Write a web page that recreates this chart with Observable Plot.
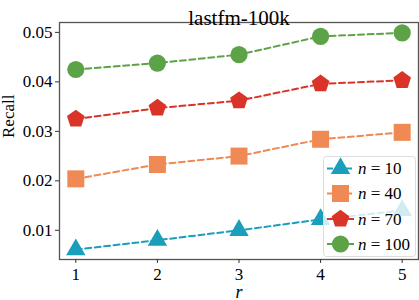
<!DOCTYPE html>
<html><head><meta charset="utf-8">
<script src="https://cdn.jsdelivr.net/npm/d3@7"></script>
<script src="https://cdn.jsdelivr.net/npm/@observablehq/plot@0.6"></script>
<style>
body{margin:0;background:#fff;}
#wrap{position:relative;width:419px;height:300px;font-family:"Liberation Serif","DejaVu Serif",serif;}
#legend{position:absolute;left:0;top:0;}
</style></head>
<body><div id="wrap"></div>
<script>
const title = "lastfm-100k";
const rValues = [1, 2, 3, 4, 5];
const seriesNames = ["10", "40", "70", "100"];
const n10 = [0.0061, 0.0080, 0.0100, 0.0122, 0.0140];
const n40 = [0.0204, 0.0233, 0.0250, 0.0284, 0.0298];
const n70 = [0.0325, 0.0347, 0.0362, 0.0396, 0.0403];
const n100 = [0.0425, 0.0438, 0.0455, 0.0492, 0.0499];
const yTicks = [0.01, 0.02, 0.03, 0.04, 0.05];
const colors = ["#1a9fbb", "#ef8a55", "#da3429", "#5ca347"];

const pentagon = {
  draw(ctx, size) {
    const R = Math.sqrt(size / Math.PI) * 1.12;
    for (let i = 0; i < 5; i++) {
      const a = -Math.PI / 2 + i * 2 * Math.PI / 5;
      const x = R * Math.cos(a), y = R * Math.sin(a);
      if (i === 0) ctx.moveTo(x, y); else ctx.lineTo(x, y);
    }
    ctx.closePath();
  }
};
const symbols = ["triangle", "square", pentagon, "circle"];
const radii = [7.2, 9.6, 8.3, 8.6];

const allValues = [n10, n40, n70, n100];
const series = allValues.map((vals, i) => rValues.map((r, j) => ({r, v: vals[j], n: seriesNames[i]})));

const marks = [Plot.frame({stroke: "#555", strokeWidth: 1.3})];
series.forEach((d, i) => {
  marks.push(Plot.line(d, {x: "r", y: "v", stroke: colors[i], strokeWidth: 2, strokeDasharray: "6,3.5"}));
  marks.push(Plot.dot(d, {x: "r", y: "v", fill: colors[i], symbol: symbols[i], r: radii[i]}));
});
marks.push(
  Plot.axisX({ticks: rValues, tickFormat: d3.format("d"), tickSize: 4, tickPadding: 4, fontSize: 17, label: null, stroke: "#333"}),
  Plot.axisY({ticks: yTicks, tickFormat: d3.format(".2f"), tickSize: 4, tickPadding: 3, fontSize: 17, label: null, stroke: "#333"}),
  Plot.text([title], {frameAnchor: "top", dy: -12, fontSize: 21, fill: "#000"}),
  Plot.text(["r"], {frameAnchor: "bottom", dy: 38, fontSize: 18, fontStyle: "italic", fill: "#000"}),
  Plot.text(["Recall"], {frameAnchor: "left", dx: -51, dy: -3, rotate: -90, fontSize: 17, fill: "#000"})
);

const chart = Plot.plot({
  width: 419, height: 300,
  marginLeft: 59, marginRight: 1, marginTop: 22, marginBottom: 41,
  style: {fontFamily: "Liberation Serif", color: "#000", background: "#fff", overflow: "visible"},
  x: {domain: [0.8, 5.2]},
  y: {domain: [0.0041, 0.0520]},
  marks
});
const wrap = document.getElementById("wrap");
wrap.appendChild(chart);

// legend overlay
const lg = d3.select(wrap).append("svg").attr("id", "legend").attr("width", 419).attr("height", 300);
lg.append("rect").attr("x", 323.5).attr("y", 156.5).attr("width", 92).attr("height", 100)
  .attr("rx", 3).attr("fill", "rgba(255,255,255,0.8)").attr("stroke", "#ddd");
const rowY = [168.5, 193.5, 219, 244];
const d3syms = [d3.symbolTriangle, d3.symbolSquare, pentagon, d3.symbolCircle];
seriesNames.forEach((name, i) => {
  const g = lg.append("g").attr("transform", `translate(0,${rowY[i]})`);
  g.append("line").attr("x1", 327).attr("x2", 354).attr("stroke", colors[i]).attr("stroke-width", 2)
    .attr("stroke-dasharray", i < 2 ? "6,3.5" : null);
  g.append("path").attr("transform", "translate(340.5,0)")
    .attr("d", d3.symbol(d3syms[i], radii[i] * radii[i] * Math.PI)()).attr("fill", colors[i]);
  const t = g.append("text").attr("x", 358).attr("dy", "0.35em").attr("font-size", 17)
    .attr("font-family", "Liberation Serif");
  t.append("tspan").attr("font-style", "italic").text("n");
  t.append("tspan").text(" = " + name);
});
</script></body></html>
